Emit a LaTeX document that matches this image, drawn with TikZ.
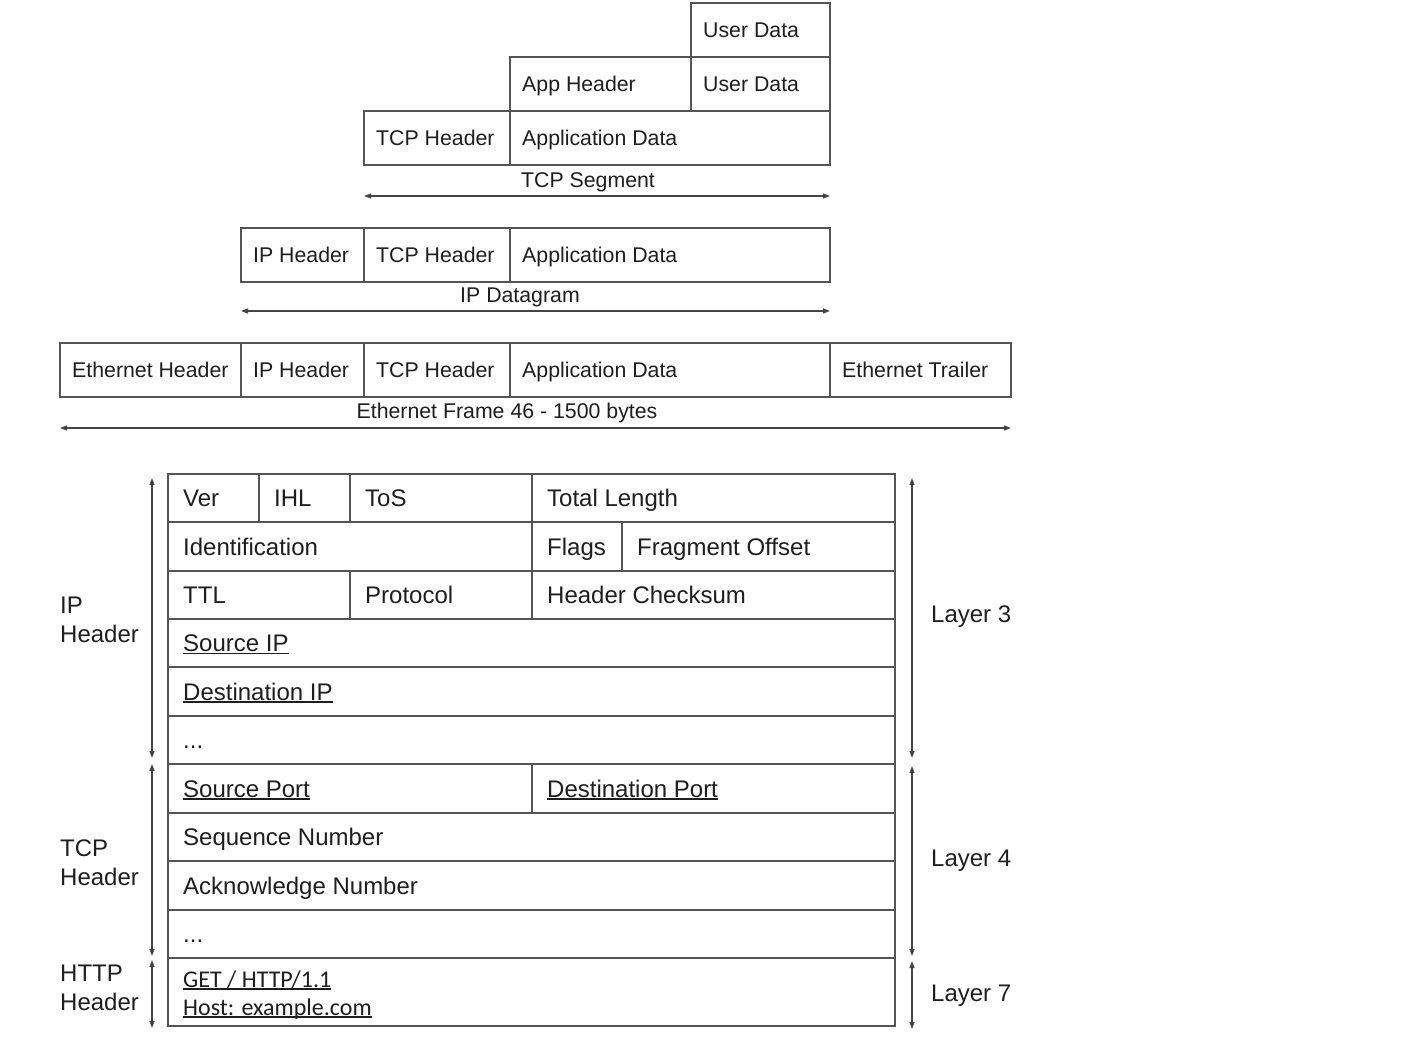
\documentclass[tikz,border=0pt]{standalone}
\usepackage{fontspec}
\setmainfont{Liberation Sans}
\newfontfamily\calfont{Carlito}
\usetikzlibrary{arrows.meta}
\definecolor{ink}{HTML}{1E1E1E}
\definecolor{rulec}{HTML}{555555}
\definecolor{arrc}{HTML}{444444}
\newcommand\ulx[1]{\setbox0\hbox{#1}\rlap{\rule[-2.6pt]{\wd0}{1.4pt}}\box0}
% name, x1, y1, x2, y2, pad, baseline offset, text
\newcommand\pcell[8]{%
  \pgfmathsetmacro\cw{#4-#2}\pgfmathsetmacro\ch{#5-#3}%
  \node[cellbox, minimum width=\cw pt, minimum height=\ch pt] (#1) at ({(#2+#4)/2},{(#3+#5)/2}) {};
  \node[celltext, anchor=base west] (#1t) at ({#2+#6},{(#3+#5)/2+#7}) {#8};}
\tikzset{
  cellbox/.style={draw=rulec, line width=1.5pt, inner sep=0pt},
  celltext/.style={text=ink, inner sep=0pt},
  span/.style={draw=arrc, line width=1.2pt, {Triangle[length=7pt,width=5pt]}-{Triangle[length=7pt,width=5pt]}},
  small/.style={font=\fontsize{21.3}{25}\selectfont},
  big/.style={font=\fontsize{24}{29}\selectfont},
  sidelab/.style={celltext, big, align=left, anchor=base west},
}
\begin{document}
\begin{tikzpicture}[x=1pt, y=-1pt]
\useasboundingbox[fill=white] (0,0) rectangle (1413,1054);

% ---------- encapsulation stack ----------
\begin{scope}[every node/.append style={small}]
\pcell{ua}{691}{3}{830}{57}{12}{7.5}{User Data}
\pcell{ah}{510}{57}{691}{111}{12}{7.5}{App Header}
\pcell{ub}{691}{57}{830}{111}{12}{7.5}{User Data}
\pcell{sth}{364}{111}{510}{165}{12}{7.5}{TCP Header}
\pcell{std}{510}{111}{830}{165}{12}{7.5}{Application Data}

\pcell{dih}{241}{228}{364}{282}{12}{7.5}{IP Header}
\pcell{dth}{364}{228}{510}{282}{12}{7.5}{TCP Header}
\pcell{dad}{510}{228}{830}{282}{12}{7.5}{Application Data}

\pcell{feh}{60}{343}{241}{397}{12}{7.5}{Ethernet Header}
\pcell{fih}{241}{343}{364}{397}{12}{7.5}{IP Header}
\pcell{fth}{364}{343}{510}{397}{12}{7.5}{TCP Header}
\pcell{fad}{510}{343}{830}{397}{12}{7.5}{Application Data}
\pcell{fet}{830}{343}{1011}{397}{12}{7.5}{Ethernet Trailer}

\node[celltext, anchor=base] (segl) at (588,187) {TCP Segment};
\node[celltext, anchor=base] (dgl) at (520,302) {IP Datagram};
\node[celltext, anchor=base] (frl) at (507,418) {Ethernet Frame 46 - 1500 bytes};
\end{scope}

\coordinate (segA) at (364,196); \coordinate (segB) at (830,196);
\coordinate (dgA) at (241,311);  \coordinate (dgB) at (830,311);
\coordinate (frA) at (60,428);   \coordinate (frB) at (1011,428);
\draw[span] (segA) -- (segB);
\draw[span] (dgA) -- (dgB);
\draw[span] (frA) -- (frB);

% ---------- header table ----------
\begin{scope}[every node/.append style={big}]
\pcell{ver}{168}{474}{259}{522}{15}{8.5}{Ver}
\pcell{ihl}{259}{474}{350}{522}{15}{8.5}{IHL}
\pcell{tos}{350}{474}{532}{522}{15}{8.5}{ToS}
\pcell{tlen}{532}{474}{895}{522}{15}{8.5}{Total Length}

\pcell{ident}{168}{522}{532}{571}{15}{8.5}{Identification}
\pcell{flags}{532}{522}{622}{571}{15}{8.5}{Flags}
\pcell{frag}{622}{522}{895}{571}{15}{8.5}{Fragment Offset}

\pcell{ttl}{168}{571}{350}{619}{15}{8.5}{TTL}
\pcell{proto}{350}{571}{532}{619}{15}{8.5}{Protocol}
\pcell{hck}{532}{571}{895}{619}{15}{8.5}{Header Checksum}

\pcell{sip}{168}{619}{895}{667}{15}{8.5}{\ulx{Source IP}}
\pcell{dip}{168}{667}{895}{716}{15}{8.5}{\ulx{Destination IP}}
\pcell{ipd}{168}{716}{895}{764}{15}{8.5}{...}

\pcell{sport}{168}{764}{532}{813}{15}{8.5}{\ulx{Source Port}}
\pcell{dport}{532}{764}{895}{813}{15}{8.5}{\ulx{Destination Port}}
\pcell{seq}{168}{813}{895}{861}{15}{8.5}{Sequence Number}
\pcell{ack}{168}{861}{895}{910}{15}{8.5}{Acknowledge Number}
\pcell{tcpd}{168}{910}{895}{958}{15}{8.5}{...}

\pcell{http}{168}{958}{895}{1026}{15}{0}{}
\node[celltext, anchor=base west, font=\calfont\fontsize{24}{28}\selectfont] (get) at (183,987) {\ulx{GET / HTTP/1.1}};
\node[celltext, anchor=base west, font=\calfont\fontsize{24}{28}\selectfont] (host) at (183,1015) {\ulx{Host: example.com}};

% side labels (anchor on the baseline of the last line)
\node[sidelab] (iplab) at (60,642) {IP\\Header};
\node[sidelab] (tcplab) at (60,885) {TCP\\Header};
\node[sidelab] (httplab) at (60,1010) {HTTP\\Header};
\node[celltext, anchor=base west] (l3) at (931,622) {Layer 3};
\node[celltext, anchor=base west] (l4) at (931,866) {Layer 4};
\node[celltext, anchor=base west] (l7) at (931,1001) {Layer 7};
\end{scope}

\coordinate (lipA) at (152,478);  \coordinate (lipB) at (152,758);
\coordinate (ltcA) at (152,764);  \coordinate (ltcB) at (152,956);
\coordinate (lhtA) at (152,960);  \coordinate (lhtB) at (152,1028);
\coordinate (ripA) at (912,478);  \coordinate (ripB) at (912,758);
\coordinate (rtcA) at (912,766);  \coordinate (rtcB) at (912,956);
\coordinate (rhtA) at (912,961);  \coordinate (rhtB) at (912,1029);
\draw[span] (lipA) -- (lipB);
\draw[span] (ltcA) -- (ltcB);
\draw[span] (lhtA) -- (lhtB);
\draw[span] (ripA) -- (ripB);
\draw[span] (rtcA) -- (rtcB);
\draw[span] (rhtA) -- (rhtB);
\end{tikzpicture}
\end{document}
